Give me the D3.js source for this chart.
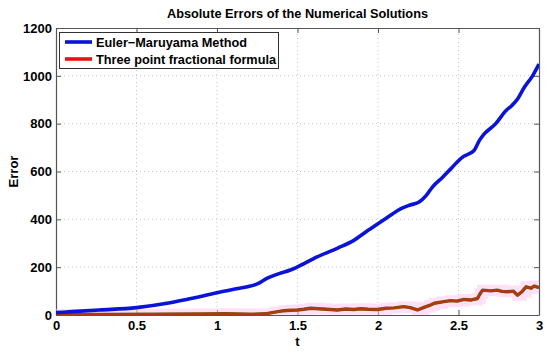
<!DOCTYPE html>
<html>
<head>
<meta charset="utf-8">
<script src="https://cdn.jsdelivr.net/npm/d3@7"></script>
<style>
  html, body { margin: 0; padding: 0; background: #fff; }
  svg { display: block; font-family: "Liberation Sans", Arial, Helvetica, sans-serif; }
</style>
</head>
<body>
<svg id="chart" width="550" height="353"></svg>
<script>
// Euler–Maruyama absolute error
const emT   = [0, 0.1, 0.27, 0.5, 0.69, 0.81, 1.0, 1.12, 1.19, 1.25, 1.31, 1.39, 1.456, 1.5, 1.622, 1.75, 1.85, 1.93, 2.016, 2.08, 2.14, 2.2, 2.255, 2.3, 2.338, 2.4, 2.452, 2.525, 2.56, 2.597, 2.63, 2.66, 2.73, 2.794, 2.83, 2.867, 2.908, 2.96, 3.0];
const emErr = [10, 14, 21, 31, 49, 65, 93, 110, 118, 130, 153, 174, 188, 201, 243, 280, 312, 350, 389, 418, 444, 460, 472, 500, 535, 575, 611, 660, 672, 688, 730, 757, 799, 854, 875, 903, 951, 1000, 1049];

// Three point fractional formula absolute error
const tpT   = [0, 0.3, 0.6, 0.9, 1.05, 1.2, 1.3, 1.36, 1.415, 1.46, 1.5, 1.54, 1.58, 1.63, 1.68, 1.747, 1.8, 1.85, 1.89, 1.94, 1.996, 2.05, 2.1, 2.16, 2.2, 2.245, 2.286, 2.32, 2.35, 2.4, 2.45, 2.49, 2.535, 2.58, 2.618, 2.635, 2.65, 2.7, 2.74, 2.77, 2.80, 2.84, 2.867, 2.89, 2.92, 2.95, 2.97, 3.0];
const tpErr = [2, 2, 3, 4, 5, 3, 5, 12, 18, 20, 21, 24, 28, 26, 24, 21, 25, 23, 26, 24, 23, 28, 30, 35, 31, 21, 32, 40, 49, 55, 60, 58, 65, 63, 69, 90, 104, 101, 104, 99, 97, 100, 83, 95, 118, 112, 121, 115];

const xTicks = [0, 0.5, 1, 1.5, 2, 2.5, 3];
const yTicks = [0, 200, 400, 600, 800, 1000, 1200];

const seriesNames = ["Euler\u2212Maruyama Method", "Three point fractional formula"];
const seriesColors = ["#0a14d6", "#c0300c"];

const titleText = "Absolute Errors of the Numerical Solutions";
const xLabel = "t";
const yLabel = "Error";

const W = 550, H = 353;
const margin = { left: 56, right: 11, top: 28, bottom: 38 };

const svg = d3.select("#chart");
const x = d3.scaleLinear().domain([0, 3]).range([margin.left, W - margin.right]);
const y = d3.scaleLinear().domain([0, 1200]).range([H - margin.bottom, margin.top]);

const x0 = x.range()[0], x1 = x.range()[1];
const y0 = y.range()[0], y1 = y.range()[1];

// dotted grid
const grid = svg.append("g").attr("stroke", "#c8c8c8").attr("stroke-width", 1).attr("stroke-dasharray", "1,3");
grid.selectAll("line.gx").data(xTicks.slice(1, -1)).join("line")
  .attr("x1", d => x(d)).attr("x2", d => x(d)).attr("y1", y0).attr("y2", y1);
grid.selectAll("line.gy").data(yTicks.slice(1, -1)).join("line")
  .attr("x1", x0).attr("x2", x1).attr("y1", d => y(d)).attr("y2", d => y(d));

// axes with inward ticks
const tickFmt = d3.format("~g");
const axB = svg.append("g").attr("transform", `translate(0,${y0})`)
  .call(d3.axisBottom(x).tickValues(xTicks).tickFormat(tickFmt).tickSizeInner(-5).tickSizeOuter(0).tickPadding(6));
const axL = svg.append("g").attr("transform", `translate(${x0},0)`)
  .call(d3.axisLeft(y).tickValues(yTicks).tickFormat(tickFmt).tickSizeInner(-5).tickSizeOuter(0).tickPadding(4));
const axT = svg.append("g").attr("transform", `translate(0,${y1})`)
  .call(d3.axisTop(x).tickValues(xTicks).tickFormat("").tickSizeInner(-5).tickSizeOuter(0));
const axR = svg.append("g").attr("transform", `translate(${x1},0)`)
  .call(d3.axisRight(y).tickValues(yTicks).tickFormat("").tickSizeInner(-5).tickSizeOuter(0));

[axB, axL, axT, axR].forEach(g => {
  g.select(".domain").attr("stroke", "#555").attr("stroke-width", 1.2);
  g.selectAll(".tick line").attr("stroke", "#555");
  g.selectAll(".tick text").attr("fill", "#000").attr("font-size", 13).attr("font-weight", "bold")
    .attr("font-family", "'Liberation Sans', Arial, sans-serif");
});

svg.append("clipPath").attr("id", "plotClip").append("rect")
  .attr("x", x0).attr("y", y1 - 2).attr("width", x1 - x0).attr("height", y0 - y1 + 2);

const emData = emT.map((t, i) => [t, emErr[i]]);
const tpData = tpT.map((t, i) => [t, tpErr[i]]);

const plot = svg.append("g").attr("clip-path", "url(#plotClip)");

// soft pink band around the fractional-formula error
plot.append("path").datum(tpData)
  .attr("d", d3.line().x(d => x(d[0])).y(d => y(d[1])).curve(d3.curveStepAfter))
  .attr("fill", "none").attr("stroke", "#ffc6ee").attr("stroke-opacity", 0.55)
  .attr("stroke-width", 11).attr("stroke-linejoin", "miter");

const rough = d3.line().x(d => x(d[0])).y(d => y(d[1]));
plot.append("path").datum(tpData).attr("d", rough)
  .attr("fill", "none").attr("stroke", "#6f5a10").attr("stroke-width", 3.4).attr("stroke-linejoin", "round");
plot.append("path").datum(tpData).attr("d", rough)
  .attr("fill", "none").attr("stroke", seriesColors[1]).attr("stroke-width", 2.4).attr("stroke-linejoin", "round")
  .attr("stroke-opacity", 0.85);

const smooth = d3.line().x(d => x(d[0])).y(d => y(d[1])).curve(d3.curveMonotoneX);
plot.append("path").datum(emData).attr("d", smooth)
  .attr("fill", "none").attr("stroke", seriesColors[0]).attr("stroke-width", 3.6).attr("stroke-linejoin", "round");

// title and axis labels
svg.append("text").attr("x", (x0 + x1) / 2).attr("y", 18).attr("text-anchor", "middle")
  .attr("font-size", 13).attr("font-weight", "bold")
  .attr("textLength", 261).attr("lengthAdjust", "spacingAndGlyphs").text(titleText);
svg.append("text").attr("x", (x0 + x1) / 2).attr("y", 346).attr("text-anchor", "middle")
  .attr("font-size", 13).attr("font-weight", "bold").text(xLabel);
svg.append("text").attr("transform", `translate(18,${(y0 + y1) / 2}) rotate(-90)`).attr("text-anchor", "middle")
  .attr("font-size", 13).attr("font-weight", "bold").text(yLabel);

// legend
const lg = svg.append("g");
lg.append("rect").attr("x", 59.5).attr("y", 32.5).attr("width", 219).attr("height", 36)
  .attr("fill", "#fff").attr("stroke", "#333").attr("stroke-width", 1);
seriesNames.forEach((name, i) => {
  const yy = 42 + i * 17;
  lg.append("line").attr("x1", 65).attr("x2", 92).attr("y1", yy).attr("y2", yy)
    .attr("stroke", i === 0 ? seriesColors[0] : "#e8140c").attr("stroke-width", 3.6);
  lg.append("text").attr("x", 96).attr("y", yy + 4.5).attr("font-size", 13).attr("font-weight", "bold")
    .attr("textLength", i === 0 ? 151 : 180).attr("lengthAdjust", "spacingAndGlyphs").text(name);
});
</script>
</body>
</html>
